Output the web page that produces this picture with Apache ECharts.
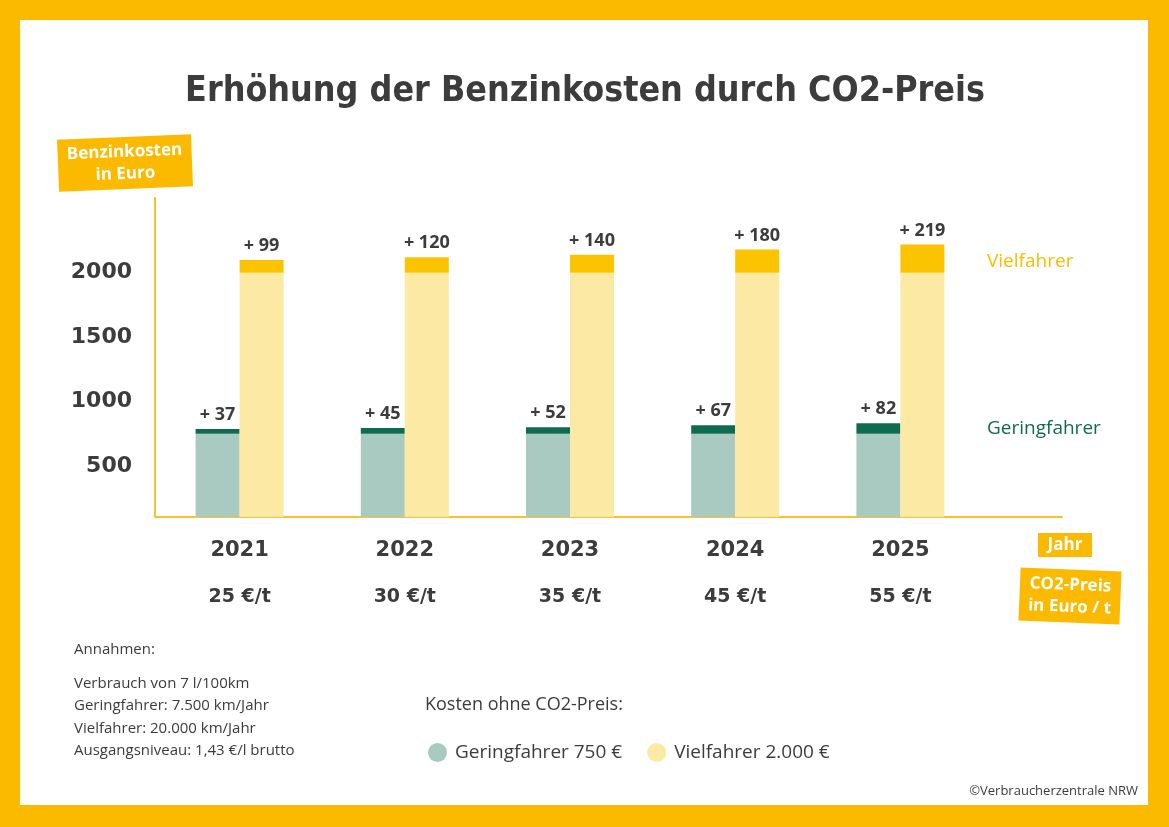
<!DOCTYPE html>
<html>
<head>
<meta charset="utf-8">
<script src="https://cdn.jsdelivr.net/npm/echarts@6/dist/echarts.min.js"></script>
<style>
html,body{margin:0;padding:0;background:#FBBA00;}
#chart{width:1169px;height:827px;}
</style>
</head>
<body>
<div id="chart"></div>
<script>
// ---- data ----
const years = ['2021', '2022', '2023', '2024', '2025'];
const co2Prices = ['25 €/t', '30 €/t', '35 €/t', '45 €/t', '55 €/t'];
const geringBase = [750, 750, 750, 750, 750];
const geringExtra = [37, 45, 52, 67, 82];
const vielBase = [2000, 2000, 2000, 2000, 2000];
const vielExtra = [99, 120, 140, 180, 219];
const yTicks = [500, 1000, 1500, 2000];
const assumptions = ['Verbrauch von 7 l/100km', 'Geringfahrer: 7.500 km/Jahr', 'Vielfahrer: 20.000 km/Jahr', 'Ausgangsniveau: 1,43 €/l brutto'];

const TXT = '#3c3c3c';
const YEL = '#FBBA00';
const AX = '#f4c430';
const G_L = '#a9cac0', G_D = '#0f6b50', V_L = '#fce9a4', V_D = '#fcc300';
const FONT = '"Open Sans", "Noto Sans", sans-serif';

const chart = echarts.init(document.getElementById('chart'), null, {renderer: 'canvas'});

const labelTop = {
  show: true, position: 'top', distance: 5,
  formatter: p => '+ ' + p.value,
  fontFamily: FONT, fontWeight: 'bold', fontSize: 18, color: TXT
};

function box(cx, cy, w, h, rot, lines, fs) {
  return {
    type: 'group', x: cx, y: cy, rotation: rot,
    children: [
      {type: 'rect', shape: {x: -w/2, y: -h/2, width: w, height: h}, style: {fill: YEL}},
      {type: 'text', style: {x: 0, y: 0, text: lines, align: 'center', verticalAlign: 'middle',
        fill: '#fff', font: 'bold ' + fs + 'px ' + FONT, lineHeight: fs + 5}}
    ]
  };
}

const graphics = [
  {type: 'rect', z: -10, shape: {x: 20, y: 20, width: 1128, height: 785}, style: {fill: '#fff'}},
  {type: 'text', style: {x: 585, y: 92, text: 'Erhöhung der Benzinkosten durch CO2-Preis', align: 'center', verticalAlign: 'middle',
    fill: TXT, font: 'bold 35.5px "Liberation Sans Narrow", "DejaVu Sans Condensed", Roboto, sans-serif'}},
  box(125, 163, 134, 52, 0.04, 'Benzinkosten\nin Euro', 17),
  box(1065, 545, 54, 24, 0, 'Jahr', 17),
  box(1070, 596, 101, 53, -0.04, 'CO2-Preis\nin Euro / t', 17),
  {type: 'text', style: {x: 987, y: 262, text: 'Vielfahrer', verticalAlign: 'middle', fill: '#f7bd00', font: '19px ' + FONT}},
  {type: 'text', style: {x: 987, y: 429, text: 'Geringfahrer', verticalAlign: 'middle', fill: G_D, font: '19px ' + FONT}},
  {type: 'text', style: {x: 74, y: 650, text: 'Annahmen:', verticalAlign: 'middle', fill: TXT, font: '15px ' + FONT}},
  {type: 'text', style: {x: 74, y: 672, text: assumptions.join('\n'), verticalAlign: 'top', fill: TXT, font: '15px ' + FONT, lineHeight: 22.6}},
  {type: 'text', style: {x: 425, y: 705, text: 'Kosten ohne CO2-Preis:', verticalAlign: 'middle', fill: TXT, font: '18px ' + FONT}},
  {type: 'text', style: {x: 1138, y: 791, text: '©Verbraucherzentrale NRW', align: 'right', verticalAlign: 'middle', fill: TXT, font: '13px ' + FONT}}
];

chart.setOption({
  backgroundColor: YEL,
  animation: false,
  graphic: graphics,
  legend: {
    data: ['Geringfahrer 750 €', 'Vielfahrer 2.000 €'],
    left: 423, top: 738, icon: 'circle', itemWidth: 19, itemHeight: 19, itemGap: 25,
    textStyle: {fontFamily: FONT, fontSize: 19, color: TXT, padding: [0, 0, 0, 3]}
  },
  grid: [
    {left: 157, right: 1169 - 983, top: 198, bottom: 310},
    {left: 155, right: 1169 - 1062, top: 198, bottom: 310}
  ],
  xAxis: [
    {type: 'category', gridIndex: 0, data: years,
      axisLine: {show: false}, axisTick: {show: false},
      axisLabel: {margin: 11, formatter: (v, i) => '{y|' + v + '}\n{p|' + co2Prices[i] + '}',
        rich: {
          y: {fontFamily: '"DejaVu Sans", sans-serif', fontWeight: 'bold', fontSize: 21, color: TXT, lineHeight: 46},
          p: {fontFamily: '"DejaVu Sans", sans-serif', fontWeight: 'bold', fontSize: 19, color: TXT, lineHeight: 46}
        }}},
    {type: 'value', gridIndex: 1, min: 0, max: 1,
      axisLine: {show: true, lineStyle: {color: AX, width: 2}}, axisTick: {show: false},
      axisLabel: {show: false}, splitLine: {show: false}}
  ],
  yAxis: [
    {type: 'value', gridIndex: 0, min: 105, max: 2580,
      axisLine: {show: false}, axisTick: {show: false}, splitLine: {show: false},
      axisLabel: {customValues: yTicks, formatter: v => String(v), margin: 25, fontFamily: '"DejaVu Sans", sans-serif', fontWeight: 'bold', fontSize: 22, color: TXT}},
    {type: 'value', gridIndex: 1, min: 0, max: 1,
      axisLine: {show: true, lineStyle: {color: AX, width: 2}}, axisTick: {show: false},
      axisLabel: {show: false}, splitLine: {show: false}}
  ],
  series: [
    {name: 'Geringfahrer 750 €', type: 'bar', stack: 'g', data: geringBase, barWidth: 44, barGap: '0%',
      itemStyle: {color: G_L}, xAxisIndex: 0, yAxisIndex: 0},
    {name: 'Geringfahrer CO2', type: 'bar', stack: 'g', data: geringExtra, barWidth: 44, barGap: '0%',
      itemStyle: {color: G_D}, label: labelTop, xAxisIndex: 0, yAxisIndex: 0},
    {name: 'Vielfahrer 2.000 €', type: 'bar', stack: 'v', data: vielBase, barWidth: 44, barGap: '0%',
      itemStyle: {color: V_L}, xAxisIndex: 0, yAxisIndex: 0},
    {name: 'Vielfahrer CO2', type: 'bar', stack: 'v', data: vielExtra, barWidth: 44, barGap: '0%',
      itemStyle: {color: V_D}, label: labelTop, xAxisIndex: 0, yAxisIndex: 0}
  ]
});
</script>
</body>
</html>
